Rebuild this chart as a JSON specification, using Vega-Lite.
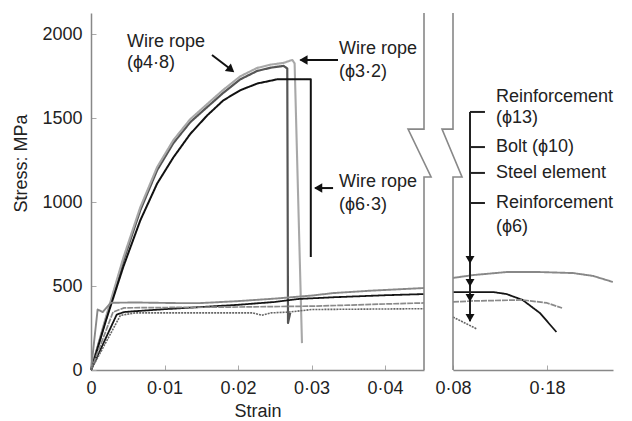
{
  "$schema": "https://vega.github.io/schema/vega-lite/v6.json",
  "padding": {"left": 12, "top": 9, "right": 5, "bottom": 2},
  "background": "white",
  "bounds": "flush",
  "spacing": 29,
  "config": {
    "view": {"stroke": null},
    "font": "Liberation Sans",
    "axis": {
      "grid": false,
      "labelFont": "Liberation Sans",
      "labelFontSize": 18,
      "labelColor": "#222",
      "labelFlush": false,
      "labelOverlap": false,
      "titleFont": "Liberation Sans",
      "titleFontSize": 18,
      "titleFontWeight": "normal",
      "titleColor": "#222",
      "domainColor": "#888",
      "domainWidth": 1.5,
      "tickColor": "#aaa",
      "tickSize": -5,
      "labelPadding": 14
    }
  },
  "datasets": {
    "left": [
      {"s": "w48", "x": 0, "y": 0}, {"s": "w48", "x": 0.002, "y": 300}, {"s": "w48", "x": 0.0044, "y": 650}, {"s": "w48", "x": 0.0067, "y": 950}, {"s": "w48", "x": 0.009, "y": 1190}, {"s": "w48", "x": 0.0112, "y": 1350}, {"s": "w48", "x": 0.0135, "y": 1475}, {"s": "w48", "x": 0.0158, "y": 1565}, {"s": "w48", "x": 0.018, "y": 1650}, {"s": "w48", "x": 0.0203, "y": 1730}, {"s": "w48", "x": 0.0226, "y": 1780}, {"s": "w48", "x": 0.0245, "y": 1800}, {"s": "w48", "x": 0.0262, "y": 1810}, {"s": "w48", "x": 0.0267, "y": 1795}, {"s": "w48", "x": 0.0268, "y": 280}, {"s": "w48", "x": 0.0271, "y": 340},
      {"s": "w32", "x": 0, "y": 0}, {"s": "w32", "x": 0.002, "y": 310}, {"s": "w32", "x": 0.0044, "y": 668}, {"s": "w32", "x": 0.0067, "y": 968}, {"s": "w32", "x": 0.009, "y": 1208}, {"s": "w32", "x": 0.0112, "y": 1368}, {"s": "w32", "x": 0.0135, "y": 1493}, {"s": "w32", "x": 0.0158, "y": 1583}, {"s": "w32", "x": 0.018, "y": 1668}, {"s": "w32", "x": 0.0203, "y": 1748}, {"s": "w32", "x": 0.0226, "y": 1798}, {"s": "w32", "x": 0.0245, "y": 1818}, {"s": "w32", "x": 0.0262, "y": 1828}, {"s": "w32", "x": 0.027, "y": 1840}, {"s": "w32", "x": 0.0274, "y": 1845}, {"s": "w32", "x": 0.0277, "y": 1825}, {"s": "w32", "x": 0.0287, "y": 160},
      {"s": "w63", "x": 0, "y": 0}, {"s": "w63", "x": 0.002, "y": 290}, {"s": "w63", "x": 0.0044, "y": 615}, {"s": "w63", "x": 0.0067, "y": 890}, {"s": "w63", "x": 0.009, "y": 1110}, {"s": "w63", "x": 0.0112, "y": 1265}, {"s": "w63", "x": 0.0135, "y": 1405}, {"s": "w63", "x": 0.0158, "y": 1515}, {"s": "w63", "x": 0.018, "y": 1605}, {"s": "w63", "x": 0.0203, "y": 1665}, {"s": "w63", "x": 0.0226, "y": 1705}, {"s": "w63", "x": 0.0253, "y": 1730}, {"s": "w63", "x": 0.0299, "y": 1730}, {"s": "w63", "x": 0.0299, "y": 672},
      {"s": "r13", "x": 0, "y": 0}, {"s": "r13", "x": 0.0009, "y": 360}, {"s": "r13", "x": 0.0016, "y": 345}, {"s": "r13", "x": 0.0027, "y": 400}, {"s": "r13", "x": 0.006, "y": 402}, {"s": "r13", "x": 0.012, "y": 398}, {"s": "r13", "x": 0.0148, "y": 398}, {"s": "r13", "x": 0.02, "y": 410}, {"s": "r13", "x": 0.025, "y": 425}, {"s": "r13", "x": 0.03, "y": 443}, {"s": "r13", "x": 0.033, "y": 458}, {"s": "r13", "x": 0.038, "y": 472}, {"s": "r13", "x": 0.0453, "y": 488},
      {"s": "bolt", "x": 0, "y": 0}, {"s": "bolt", "x": 0.0035, "y": 330}, {"s": "bolt", "x": 0.0045, "y": 345}, {"s": "bolt", "x": 0.006, "y": 350}, {"s": "bolt", "x": 0.01, "y": 362}, {"s": "bolt", "x": 0.015, "y": 375}, {"s": "bolt", "x": 0.02, "y": 388}, {"s": "bolt", "x": 0.025, "y": 405}, {"s": "bolt", "x": 0.0283, "y": 423}, {"s": "bolt", "x": 0.033, "y": 433}, {"s": "bolt", "x": 0.04, "y": 445}, {"s": "bolt", "x": 0.0453, "y": 452},
      {"s": "steel", "x": 0, "y": 0}, {"s": "steel", "x": 0.003, "y": 345}, {"s": "steel", "x": 0.0045, "y": 370}, {"s": "steel", "x": 0.01, "y": 372}, {"s": "steel", "x": 0.02, "y": 375}, {"s": "steel", "x": 0.03, "y": 380}, {"s": "steel", "x": 0.035, "y": 386}, {"s": "steel", "x": 0.04, "y": 393}, {"s": "steel", "x": 0.0453, "y": 399},
      {"s": "r6", "x": 0, "y": 0}, {"s": "r6", "x": 0.004, "y": 325}, {"s": "r6", "x": 0.006, "y": 340}, {"s": "r6", "x": 0.022, "y": 340}, {"s": "r6", "x": 0.0232, "y": 326}, {"s": "r6", "x": 0.0245, "y": 340}, {"s": "r6", "x": 0.027, "y": 345}, {"s": "r6", "x": 0.03, "y": 360}, {"s": "r6", "x": 0.0453, "y": 365}
    ],
    "right": [
      {"s": "r13", "x": 0.08, "y": 548}, {"s": "r13", "x": 0.1013, "y": 565}, {"s": "r13", "x": 0.137, "y": 583}, {"s": "r13", "x": 0.1725, "y": 583}, {"s": "r13", "x": 0.2077, "y": 577}, {"s": "r13", "x": 0.229, "y": 560}, {"s": "r13", "x": 0.25, "y": 524},
      {"s": "bolt", "x": 0.08, "y": 464}, {"s": "bolt", "x": 0.1226, "y": 464}, {"s": "bolt", "x": 0.137, "y": 452}, {"s": "bolt", "x": 0.154, "y": 417}, {"s": "bolt", "x": 0.1725, "y": 339}, {"s": "bolt", "x": 0.19, "y": 226},
      {"s": "steel", "x": 0.08, "y": 405}, {"s": "steel", "x": 0.1013, "y": 411}, {"s": "steel", "x": 0.154, "y": 417}, {"s": "steel", "x": 0.18, "y": 399}, {"s": "steel", "x": 0.196, "y": 369},
      {"s": "r6", "x": 0.08, "y": 315}, {"s": "r6", "x": 0.1055, "y": 244}
    ],
    "lbreak": [
      {"x": 0.0453, "y": 2125}, {"x": 0.0453, "y": 1434}, {"x": 0.04313, "y": 1434}, {"x": 0.04626, "y": 1149}, {"x": 0.0453, "y": 1149}, {"x": 0.0453, "y": 0}
    ],
    "rbreak": [
      {"x": 0.08, "y": 2125}, {"x": 0.08, "y": 1434}, {"x": 0.0683, "y": 1434}, {"x": 0.0896, "y": 1149}, {"x": 0.08, "y": 1149}, {"x": 0.08, "y": 0}
    ],
    "larrows": [
      {"x": 0.01646, "y": 1875, "x2": 0.0190, "y2": 1790},
      {"x": 0.0336, "y": 1845, "x2": 0.0285, "y2": 1845},
      {"x": 0.03293, "y": 1083, "x2": 0.0305, "y2": 1083}
    ],
    "lheadsLeft": [
      {"x": 0.0289, "y": 1845}, {"x": 0.0309, "y": 1083}
    ],
    "lheadsDiag": [
      {"x": 0.01905, "y": 1787}
    ],
    "ltext": [
      {"x": 0.0049, "y": 1952, "label": "Wire rope"}, {"x": 0.0049, "y": 1827, "label": "(ϕ4·8)"},
      {"x": 0.03374, "y": 1911, "label": "Wire rope"}, {"x": 0.03374, "y": 1774, "label": "(ϕ3·2)"},
      {"x": 0.03374, "y": 1119, "label": "Wire rope"}, {"x": 0.03374, "y": 982, "label": "(ϕ6·3)"}
    ],
    "rbracket": [
      {"x": 0.0981, "y": 1536, "x2": 0.0981, "y2": 290},
      {"x": 0.0981, "y": 1536, "x2": 0.114, "y2": 1536},
      {"x": 0.0981, "y": 1327, "x2": 0.114, "y2": 1327},
      {"x": 0.0981, "y": 1173, "x2": 0.114, "y2": 1173},
      {"x": 0.0981, "y": 994, "x2": 0.114, "y2": 994}
    ],
    "rheads": [
      {"x": 0.0981, "y": 655}, {"x": 0.0981, "y": 518}, {"x": 0.0981, "y": 429}, {"x": 0.0981, "y": 310}
    ],
    "rtext": [
      {"x": 0.1257, "y": 1625, "label": "Reinforcement"}, {"x": 0.1257, "y": 1500, "label": "(ϕ13)"},
      {"x": 0.1257, "y": 1327, "label": "Bolt (ϕ10)"}, {"x": 0.1257, "y": 1173, "label": "Steel element"},
      {"x": 0.1257, "y": 994, "label": "Reinforcement"}, {"x": 0.1257, "y": 851, "label": "(ϕ6)"}
    ]
  },
  "hconcat": [
    {
      "width": 333,
      "height": 357,
      "encoding": {
        "x": {"field": "x", "type": "quantitative", "scale": {"domain": [0, 0.0453], "nice": false, "zero": false},
              "axis": {"values": [0, 0.01, 0.02, 0.03, 0.04], "title": "Strain", "titlePadding": 5,
                       "labelExpr": "datum.value == 0 ? '0' : replace(format(datum.value, '.2f'), '.', '·')"}},
        "y": {"field": "y", "type": "quantitative", "scale": {"domain": [0, 2125], "nice": false},
              "axis": {"values": [0, 500, 1000, 1500, 2000], "format": "d", "title": "Stress: MPa", "titleX": -70, "titleY": 150,
                       "titleAngle": -90, "titleAlign": "center", "titleBaseline": "middle"}}
      },
      "layer": [
        {
          "data": {"name": "left"},
          "mark": {"type": "line", "strokeJoin": "round"},
          "encoding": {
            "detail": {"field": "s"},
            "order": {"value": null},
            "color": {"field": "s", "type": "nominal", "legend": null,
                      "scale": {"domain": ["w48", "w32", "w63", "r13", "bolt", "steel", "r6"],
                                "range": ["#555555", "#a8a8a8", "#111111", "#888888", "#151515", "#8a8a8a", "#666666"]}},
            "strokeWidth": {"field": "s", "type": "nominal", "legend": null,
                      "scale": {"domain": ["w48", "w32", "w63", "r13", "bolt", "steel", "r6"],
                                "range": [2.2, 1.6, 2.2, 1.5, 2.2, 2.4, 1.8]}},
            "strokeDash": {"field": "s", "type": "nominal", "legend": null,
                      "scale": {"domain": ["w48", "w32", "w63", "r13", "bolt", "steel", "r6"],
                                "range": [[1, 0], [1, 0], [1, 0], [1, 0], [1, 0], [6, 1], [2, 1]]}}
          }
        },
        {
          "data": {"name": "lbreak"},
          "mark": {"type": "line", "color": "#888", "strokeWidth": 1.6, "clip": false},
          "encoding": {"order": {"value": null}}
        },
        {
          "data": {"name": "larrows"},
          "mark": {"type": "rule", "color": "#111", "strokeWidth": 2},
          "encoding": {"x2": {"field": "x2"}, "y2": {"field": "y2"}}
        },
        {
          "data": {"name": "lheadsLeft"},
          "mark": {"type": "point", "shape": "triangle-left", "filled": true, "color": "#111", "size": 90, "opacity": 1},
          "encoding": {}
        },
        {
          "data": {"name": "lheadsDiag"},
          "mark": {"type": "point", "shape": "triangle-right", "filled": true, "color": "#111", "size": 90, "angle": 39, "opacity": 1},
          "encoding": {}
        },
        {
          "data": {"name": "ltext"},
          "mark": {"type": "text", "align": "left", "baseline": "middle", "fontSize": 18, "color": "#222", "font": "Liberation Sans"},
          "encoding": {"text": {"field": "label"}}
        }
      ]
    },
    {
      "width": 160,
      "height": 357,
      "encoding": {
        "x": {"field": "x", "type": "quantitative", "scale": {"domain": [0.08, 0.2502], "nice": false, "zero": false},
              "axis": {"values": [0.08, 0.18], "title": null,
                       "labelExpr": "replace(format(datum.value, '.2f'), '.', '·')"}},
        "y": {"field": "y", "type": "quantitative", "scale": {"domain": [0, 2125], "nice": false}, "axis": null}
      },
      "layer": [
        {
          "data": {"name": "right"},
          "mark": {"type": "line", "strokeJoin": "round"},
          "encoding": {
            "detail": {"field": "s"},
            "order": {"value": null},
            "color": {"field": "s", "type": "nominal", "legend": null,
                      "scale": {"domain": ["r13", "bolt", "steel", "r6"],
                                "range": ["#888888", "#151515", "#8a8a8a", "#777777"]}},
            "strokeWidth": {"field": "s", "type": "nominal", "legend": null,
                      "scale": {"domain": ["r13", "bolt", "steel", "r6"], "range": [2, 2.4, 2.4, 1.8]}},
            "strokeDash": {"field": "s", "type": "nominal", "legend": null,
                      "scale": {"domain": ["r13", "bolt", "steel", "r6"],
                                "range": [[10, 2], [1, 0], [6, 1], [1, 0]]}}
          }
        },
        {
          "data": {"name": "rbreak"},
          "mark": {"type": "line", "color": "#888", "strokeWidth": 1.6, "clip": false},
          "encoding": {"order": {"value": null}}
        },
        {
          "data": {"name": "rbracket"},
          "mark": {"type": "rule", "color": "#222", "strokeWidth": 2},
          "encoding": {"x2": {"field": "x2"}, "y2": {"field": "y2"}}
        },
        {
          "data": {"name": "rheads"},
          "mark": {"type": "point", "shape": "triangle-down", "filled": true, "color": "#111", "size": 80, "opacity": 1},
          "encoding": {}
        },
        {
          "data": {"name": "rtext"},
          "mark": {"type": "text", "align": "left", "baseline": "middle", "fontSize": 18, "color": "#222", "font": "Liberation Sans"},
          "encoding": {"text": {"field": "label"}}
        }
      ]
    }
  ]
}
